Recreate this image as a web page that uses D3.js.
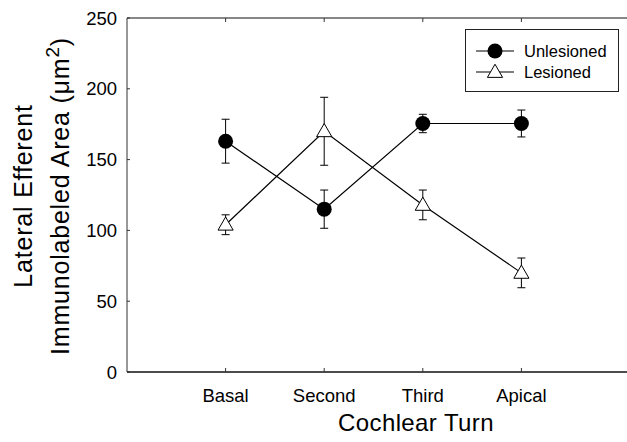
<!DOCTYPE html>
<html>
<head>
<meta charset="utf-8">
<script src="https://cdn.jsdelivr.net/npm/d3@7"></script>
<style>
  body { margin: 0; background: #fff; }
  svg { display: block; font-family: Arial, "Liberation Sans", Helvetica, sans-serif; }
</style>
</head>
<body>
<div id="chart"></div>
<script>
// data
const turns = ['Basal', 'Second', 'Third', 'Apical'];
const unlesioned = [163, 115, 175.5, 175.5];
const unlesionedErr = [15.5, 13.5, 6.5, 9.5];
const lesioned = [104, 170, 118, 70];
const lesionedErr = [7, 24, 10.5, 10.5];
const yTicks = [0, 50, 100, 150, 200, 250];

const width = 627;
const height = 442;
const marginLeft = 127;
const marginTop = 18;
const plotBottom = 372;

const $svg = d3.select('#chart').append('svg')
  .attr('width', width)
  .attr('height', height);

const scaleX = d3.scaleLinear().domain([0, 5]).range([marginLeft, 620]);
const scaleY = d3.scaleLinear().domain([0, 250]).range([plotBottom, marginTop]);

// frame: left, top, bottom (right side is cut off in the figure)
const $axis = $svg.append('g');
$axis.append('line')
  .attr('x1', marginLeft).attr('x2', marginLeft)
  .attr('y1', marginTop).attr('y2', plotBottom)
  .attr('stroke', '#333').attr('stroke-width', 1);
$axis.append('line')
  .attr('x1', marginLeft).attr('x2', width)
  .attr('y1', marginTop).attr('y2', marginTop)
  .attr('stroke', '#111').attr('stroke-width', 1.2);
$axis.append('line')
  .attr('x1', marginLeft).attr('x2', width)
  .attr('y1', plotBottom).attr('y2', plotBottom)
  .attr('stroke', '#111').attr('stroke-width', 1.5);

// y ticks (inward) + labels
$axis.selectAll('.y-tick')
  .data(yTicks)
  .enter()
  .append('line')
  .attr('x1', marginLeft).attr('x2', marginLeft + 3)
  .attr('y1', d => scaleY(d)).attr('y2', d => scaleY(d))
  .attr('stroke', '#333');

$axis.selectAll('.y-label')
  .data(yTicks)
  .enter()
  .append('text')
  .attr('x', marginLeft - 10)
  .attr('y', d => scaleY(d))
  .attr('dy', '0.36em')
  .attr('text-anchor', 'end')
  .attr('font-size', 18.5)
  .text(d => d);

// x ticks top and bottom (inward) + labels
const xIdx = turns.map((t, i) => i + 1);
$axis.selectAll('.x-tick-b')
  .data(xIdx)
  .enter()
  .append('line')
  .attr('x1', d => scaleX(d)).attr('x2', d => scaleX(d))
  .attr('y1', plotBottom).attr('y2', plotBottom - 4)
  .attr('stroke', '#333');
$axis.selectAll('.x-tick-t')
  .data(xIdx)
  .enter()
  .append('line')
  .attr('x1', d => scaleX(d)).attr('x2', d => scaleX(d))
  .attr('y1', marginTop).attr('y2', marginTop + 4)
  .attr('stroke', '#333');
$axis.selectAll('.x-label')
  .data(turns)
  .enter()
  .append('text')
  .attr('x', (d, i) => scaleX(i + 1))
  .attr('y', 402)
  .attr('text-anchor', 'middle')
  .attr('font-size', 18.5)
  .text(d => d);

// axis titles
$svg.append('text')
  .attr('x', 416).attr('y', 431)
  .attr('text-anchor', 'middle')
  .attr('font-size', 24)
  .attr('letter-spacing', 0.4)
  .text('Cochlear Turn');

const $yTitle = $svg.append('text')
  .attr('transform', 'translate(0,196) rotate(-90)')
  .attr('text-anchor', 'middle')
  .attr('font-size', 25)
  .attr('letter-spacing', 0.8);
$yTitle.append('tspan').attr('x', 0).attr('y', 32).text('Lateral Efferent');
const $l2 = $yTitle.append('tspan').attr('x', 0).attr('y', 69).text('Immunolabeled Area (\u03bcm');
$l2.append('tspan').attr('dy', -10).attr('font-size', 19).text('2');
$l2.append('tspan').attr('dy', 10).text(')');

// series
const series = [
  { name: 'Unlesioned', values: unlesioned, err: unlesionedErr, shape: 'circle' },
  { name: 'Lesioned', values: lesioned, err: lesionedErr, shape: 'triangle' }
];

const $vis = $svg.append('g');
const line = d3.line().x((d, i) => scaleX(i + 1)).y(d => scaleY(d));
const triangle = d3.symbol().type(d3.symbolTriangle).size(100);

function drawMarker($g, shape, x, y) {
  if (shape === 'circle') {
    $g.append('circle')
      .attr('cx', x).attr('cy', y).attr('r', 7.5)
      .attr('fill', '#000');
  } else {
    $g.append('path')
      .attr('d', triangle())
      .attr('transform', `translate(${x},${y + 1})`)
      .attr('fill', '#fff')
      .attr('stroke', '#000')
      .attr('stroke-width', 1);
  }
}

series.forEach(s => {
  const $g = $vis.append('g');
  // error bars
  s.values.forEach((v, i) => {
    const x = scaleX(i + 1);
    const y0 = scaleY(v - s.err[i]);
    const y1 = scaleY(v + s.err[i]);
    $g.append('line').attr('x1', x).attr('x2', x).attr('y1', y0).attr('y2', y1)
      .attr('stroke', '#000');
    [y0, y1].forEach(y => {
      $g.append('line').attr('x1', x - 4).attr('x2', x + 4).attr('y1', y).attr('y2', y)
        .attr('stroke', '#000');
    });
  });
  $g.append('path')
    .attr('d', line(s.values))
    .attr('fill', 'none')
    .attr('stroke', '#000')
    .attr('stroke-width', 1.2);
  s.values.forEach((v, i) => drawMarker($g, s.shape, scaleX(i + 1), scaleY(v)));
});

// legend
const $legend = $svg.append('g');
$legend.append('rect')
  .attr('x', 465.5).attr('y', 29.5)
  .attr('width', 153).attr('height', 62)
  .attr('fill', '#fff')
  .attr('stroke', '#222');
series.forEach((s, i) => {
  const y = 51 + i * 21;
  $legend.append('line')
    .attr('x1', 476).attr('x2', 514).attr('y1', y).attr('y2', y)
    .attr('stroke', '#000').attr('stroke-width', 1.2);
  drawMarker($legend, s.shape, 495, y);
  $legend.append('text')
    .attr('x', 524).attr('y', y)
    .attr('dy', '0.36em')
    .attr('font-size', 16.5)
    .text(s.name);
});
</script>
</body>
</html>
